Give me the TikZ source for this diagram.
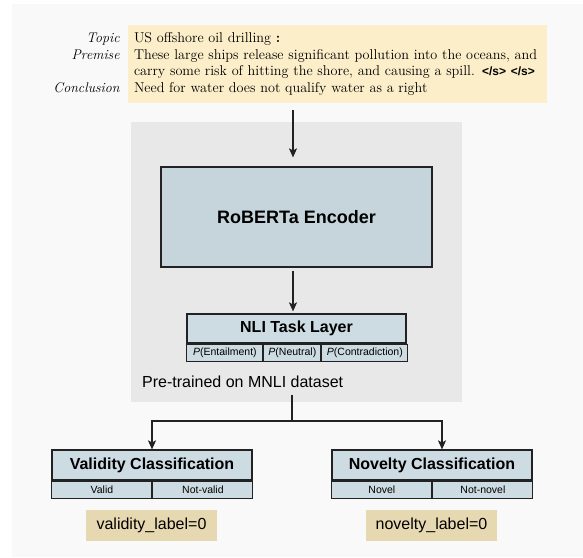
\documentclass[tikz,border=0pt]{standalone}
\usepackage{fontspec}
\setsansfont{Liberation Sans}
\usetikzlibrary{arrows.meta,positioning}

\definecolor{pagebg}{HTML}{F9F9F9}
\definecolor{topicbg}{HTML}{FBEEC9}
\definecolor{panelbg}{HTML}{E8E8E8}
\definecolor{encblue}{HTML}{C6D5DB}
\definecolor{headblue}{HTML}{CDDCE2}
\definecolor{labeltan}{HTML}{E6D8B0}
\definecolor{edge}{HTML}{222222}

\newcommand{\septok}{\textsf{\bfseries\fontsize{12}{14}\selectfont </s>}}

\begin{document}
\begin{tikzpicture}[x=1pt, y=-1pt,
        block/.style={draw=edge, line width=1.2pt, fill=headblue, inner sep=0pt, font=\sffamily\bfseries\fontsize{16}{19}\selectfont},
        cell/.style={draw=edge, line width=1pt, fill=headblue, inner sep=0pt, minimum height=17pt, font=\sffamily\fontsize{10.5}{12}\selectfont},
        result/.style={fill=labeltan, inner sep=0pt, minimum width=131pt, minimum height=31pt, font=\sffamily\fontsize{16}{19}\selectfont},
        flow/.style={draw=edge, line width=1.2pt, -{Stealth[length=9pt, width=8pt, inset=2pt]}},
        wire/.style={draw=edge, line width=1.2pt}]
        \useasboundingbox (0,0) rectangle (583,557);
        \fill[white] (0,0) rectangle (583,557);
        \fill[pagebg] (12,4) rectangle (583,557);

        % input sentence pair
        \node[fill=topicbg, minimum width=419pt, minimum height=78pt, text width=407pt, inner xsep=6pt, inner ysep=6pt, align=left, font=\fontsize{14.2}{16.5}\selectfont] (input) at (337.5,64) {US offshore oil drilling \textbf{:}\strut\\
            These large ships release significant pollution into the oceans, and\strut\\
            carry some risk of hitting the shore, and causing a spill. \septok{} \septok\strut\\
            Need for water does not qualify water as a right\strut};
        \node[anchor=north east, inner xsep=0pt, inner ysep=6pt, align=right, font=\itshape\fontsize{14}{16.5}\selectfont] (fields) at ([xshift=-8pt]input.north west) {Topic\strut\\ Premise\strut\\ \strut\\ Conclusion\strut};

        % pre-trained model
        \node[fill=panelbg, minimum width=331pt, minimum height=280pt, inner sep=0pt] (panel) at (296.5,262) {};
        \node[block, fill=encblue, minimum width=271pt, minimum height=100pt, font=\sffamily\bfseries\fontsize{18}{21}\selectfont] (encoder) at (296.5,217) {RoBERTa Encoder};
        \node[block, minimum width=219pt, minimum height=29pt] (nli) at (296.5,328.5) {NLI Task Layer};
        \node[cell, minimum width=76pt, anchor=north west] (ent) at (nli.south west) {\textit{P}(Entailment)};
        \node[cell, minimum width=57pt, right=0pt of ent] (neu) {\textit{P}(Neutral)};
        \node[cell, minimum width=86pt, right=0pt of neu] (con) {\textit{P}(Contradiction)};
        \node[anchor=west, inner sep=0pt, font=\sffamily\fontsize{16}{19}\selectfont] (pretrain) at (142,382) {Pre-trained on MNLI dataset};

        % classification heads
        \node[block, minimum width=200pt, minimum height=30pt] (valhead) at (152,465) {Validity Classification};
        \node[cell, minimum width=100pt, anchor=north west] (valid) at (valhead.south west) {Valid\hspace{18pt}};
        \node[cell, minimum width=100pt, right=0pt of valid] (notvalid) {Not-valid\hspace{18pt}};
        \node[block, minimum width=200pt, minimum height=30pt] (novhead) at (432,465) {Novelty Classification};
        \node[cell, minimum width=100pt, anchor=north west] (novel) at (novhead.south west) {Novel};
        \node[cell, minimum width=100pt, right=0pt of novel] (notnovel) {Not-novel};

        \node[result] (valres) at (151.5,525.5) {validity\_label=0};
        \node[result] (novres) at (431.5,525.5) {novelty\_label=0};

        \coordinate (tap) at (292,395);
        \coordinate (split) at (292,421);

        \draw[flow, shorten <=7pt, shorten >=9pt] ([xshift=-3.5pt]encoder.north |- input.south) -- ([xshift=-3.5pt]encoder.north);
        \draw[flow, shorten <=3pt, shorten >=2pt] ([xshift=-3.5pt]encoder.south) -- ([xshift=-3.5pt]nli.north);
        \draw[wire] (tap) -- (split);
        \draw[flow] (split) -| (valhead.north);
        \draw[flow] (split) -| ([xshift=10pt]novhead.north);
    \end{tikzpicture}
\end{document}
